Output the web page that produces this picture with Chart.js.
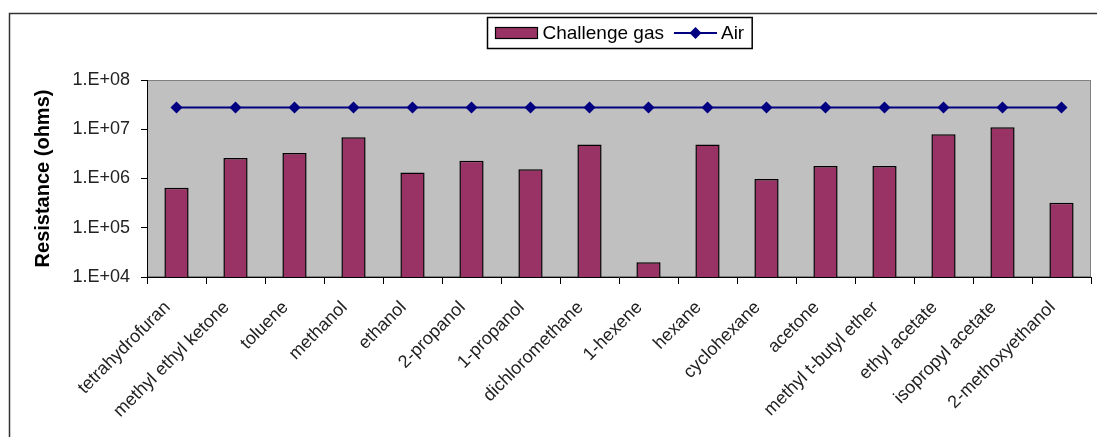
<!DOCTYPE html>
<html>
<head>
<meta charset="utf-8">
<script src="https://cdn.jsdelivr.net/npm/chart.js@4.4.1/dist/chart.umd.min.js"></script>
<style>
  body { margin: 0; background: #fff; }
  canvas { display: block; }
</style>
</head>
<body>
<canvas id="chart" width="1097" height="437"></canvas>
<script>
// chart data
const gases = ['tetrahydrofuran', 'methyl ethyl ketone', 'toluene', 'methanol', 'ethanol',
    '2-propanol', '1-propanol', 'dichloromethane', '1-hexene', 'hexane', 'cyclohexane',
    'acetone', 'methyl t-butyl ether', 'ethyl acetate', 'isopropyl acetate', '2-methoxyethanol'];
const challengeGas = [6.5e5, 2.6e6, 3.3e6, 6.9e6, 1.32e6, 2.3e6, 1.55e6, 4.9e6, 2.0e4,
    4.9e6, 9.8e5, 1.8e6, 1.8e6, 7.9e6, 1.1e7, 3.2e5];
const air = [2.75e7, 2.75e7, 2.75e7, 2.75e7, 2.75e7, 2.75e7, 2.75e7, 2.75e7, 2.75e7,
    2.75e7, 2.75e7, 2.75e7, 2.75e7, 2.75e7, 2.75e7, 2.75e7];
const yTickValues = [1e4, 1e5, 1e6, 1e7, 1e8];
const yTickLabels = ['1.E+04', '1.E+05', '1.E+06', '1.E+07', '1.E+08'];

const FONT = '"Liberation Sans", Arial, sans-serif';
const BAR_COLOR = '#993366';
const AIR_COLOR = '#000080';

// grey plot area and the outer frame line
const backdrop = {
    id: 'backdrop',
    beforeDraw(chart) {
        const {ctx, chartArea: a} = chart;
        ctx.save();
        ctx.strokeStyle = '#333';
        ctx.lineWidth = 1.5;
        ctx.beginPath();
        ctx.moveTo(9.5, 437);
        ctx.lineTo(9.5, 13.5);
        ctx.lineTo(1097, 13.5);
        ctx.stroke();
        ctx.fillStyle = '#c0c0c0';
        ctx.fillRect(a.left, a.top, a.right - a.left, a.bottom - a.top);
        ctx.strokeStyle = '#808080';
        ctx.lineWidth = 1;
        ctx.strokeRect(a.left + 0.5, a.top + 0.5, a.right - a.left - 1, a.bottom - a.top - 1);
        ctx.restore();
    }
};

// boxed legend: bar swatch, then line with a diamond
const boxLegend = {
    id: 'boxLegend',
    afterDraw(chart) {
        const ctx = chart.ctx;
        const sets = chart.data.datasets;
        const barSet = sets.find(d => d.type !== 'line');
        const lineSet = sets.find(d => d.type === 'line');
        ctx.save();
        ctx.font = '19px ' + FONT;
        ctx.textBaseline = 'middle';
        const w0 = ctx.measureText(barSet.label).width;
        const w1 = ctx.measureText(lineSet.label).width;
        const total = 8 + 42 + 5 + w0 + 10 + 43 + 4 + w1 + 8;
        const a = chart.chartArea;
        let x = Math.round((a.left + a.right) / 2 - total / 2) + 0.5;
        const top = 17.5, h = 31, cy = top + h / 2;
        ctx.strokeStyle = '#000';
        ctx.lineWidth = 1.5;
        ctx.strokeRect(x, top, total, h);
        x += 8;
        ctx.fillStyle = BAR_COLOR;
        ctx.fillRect(x, cy - 5.5, 42, 11);
        ctx.lineWidth = 1.2;
        ctx.strokeRect(x, cy - 5.5, 42, 11);
        x += 47;
        ctx.fillStyle = '#000';
        ctx.fillText(barSet.label, x, cy + 1);
        x += w0 + 10;
        ctx.strokeStyle = AIR_COLOR;
        ctx.lineWidth = 2;
        ctx.beginPath();
        ctx.moveTo(x, cy);
        ctx.lineTo(x + 43, cy);
        ctx.stroke();
        ctx.fillStyle = AIR_COLOR;
        ctx.beginPath();
        ctx.moveTo(x + 21.5, cy - 6);
        ctx.lineTo(x + 27.5, cy);
        ctx.lineTo(x + 21.5, cy + 6);
        ctx.lineTo(x + 15.5, cy);
        ctx.closePath();
        ctx.fill();
        x += 47;
        ctx.fillStyle = '#000';
        ctx.fillText(lineSet.label, x, cy + 1);
        ctx.restore();
    }
};

const chart = new Chart(document.getElementById('chart'), {
    type: 'bar',
    data: {
        labels: gases,
        datasets: [
            {
                type: 'line',
                label: 'Air',
                data: air,
                borderColor: AIR_COLOR,
                backgroundColor: AIR_COLOR,
                borderWidth: 2,
                pointStyle: 'rectRot',
                pointRadius: 6,
                pointBorderWidth: 0,
                order: 0
            },
            {
                label: 'Challenge gas',
                data: challengeGas,
                backgroundColor: BAR_COLOR,
                borderColor: '#000',
                borderWidth: 1.5,
                barPercentage: 0.41,
                categoryPercentage: 1,
                order: 1
            }
        ]
    },
    options: {
        responsive: false,
        devicePixelRatio: 1,
        animation: false,
        layout: {
            padding: {top: 80, right: 1, left: 0, bottom: 0}
        },
        plugins: {
            legend: {display: false},
            tooltip: {enabled: false}
        },
        scales: {
            x: {
                offset: true,
                grid: {
                    offset: true,
                    drawOnChartArea: false,
                    tickLength: 7,
                    color: '#000'
                },
                border: {color: '#000', width: 1},
                ticks: {
                    color: '#222',
                    font: {family: FONT, size: 18},
                    maxRotation: 45,
                    minRotation: 45,
                    autoSkip: false,
                    padding: 13,
                    labelOffset: -9
                },
                afterFit(scale) {
                    scale.height = 160;
                }
            },
            y: {
                type: 'logarithmic',
                min: 1e4,
                max: 1e8,
                grid: {
                    drawOnChartArea: false,
                    tickLength: 6,
                    color: '#000'
                },
                border: {color: '#000', width: 1},
                ticks: {
                    color: '#222',
                    font: {family: FONT, size: 18},
                    padding: 11,
                    callback: function (value) {
                        const i = yTickValues.indexOf(value);
                        return i >= 0 ? yTickLabels[i] : '';
                    }
                },
                afterBuildTicks(scale) {
                    scale.ticks = yTickValues.map(v => ({value: v}));
                },
                title: {
                    display: true,
                    text: 'Resistance (ohms)',
                    color: '#000',
                    font: {family: FONT, size: 20, weight: 'bold'},
                    padding: {top: 31, bottom: 0}
                },
                afterFit(scale) {
                    scale.width = 147;
                }
            }
        }
    },
    plugins: [backdrop, boxLegend]
});
</script>
</body>
</html>
